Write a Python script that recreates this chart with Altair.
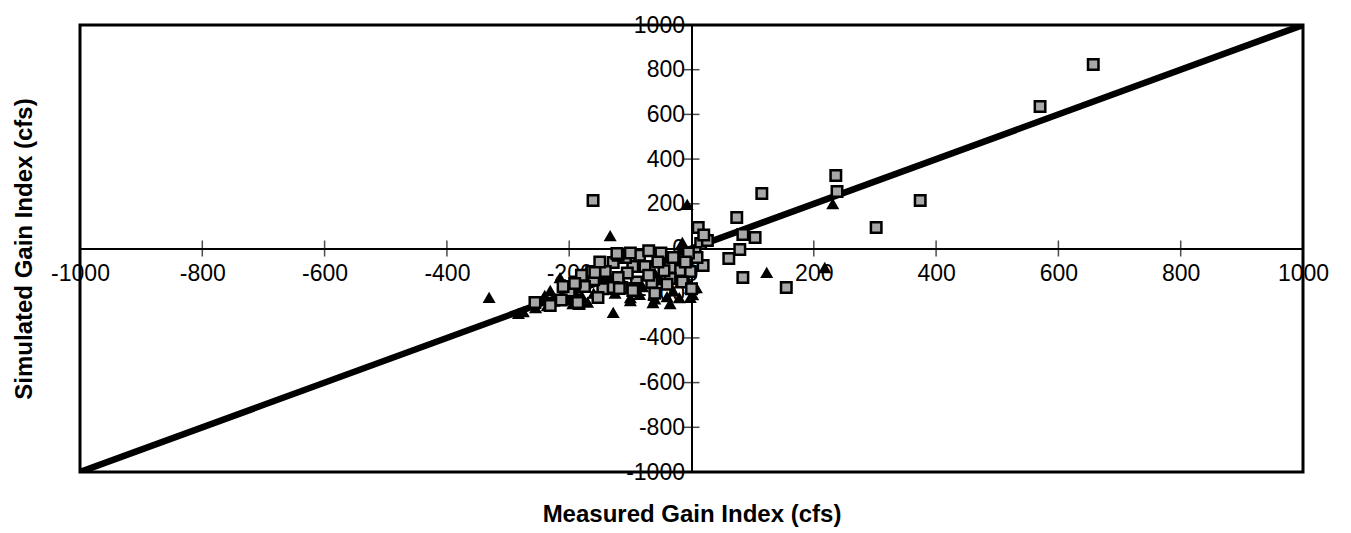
import altair as alt
import pandas as pd

# Measured (x) vs simulated (y) gain index, cfs
square_x = [657, 570, 236, 238, 302, 374, 115, 74, 84, 104, 79, 61, 84, 155,
            11, 15, 6, 26, 20, 19, 9, -11, -2, -19, -35, -35, -30, -15, -5, -10,
            0, -45, -50, -55, -40, -65, -76, -70, -60, -85, -90, -93, -96, -96,
            -105, -108, -114, -120, -128, -133, -141, -145, -153, -160, -163,
            -175, -184, -190, -200, -213, -231, -256, -161, -120, -100, -70,
            -150, -180, -210, -122, -158, -128, -118, -186, -191]
square_y = [823, 635, 327, 255, 94, 215, 246, 139, 63, 49, -4, -45, -130, -174,
            94, 22, -18, 36, 60, -76, -40, -98, -103, -98, -85, -134, -40, -150, -20, -60,
            -180, -100, -20, -60, -160, -152, -81, -120, -200, -30, -150, -179, -81, -188,
            -110, -40, -175, -130, -63, -179, -103, -180, -219, -140, -103,
            -170, -246, -150, -190, -230, -255, -242, 215, -30, -20, -10,
            -60, -120, -170, -22, -107, -174, -179, -242, -157]

tri_x = [-331, -283, -275, -236, -231, -200, -180, -128, -100, -60, -30, 2,
         -15, -7, -133, 123, 218, 231, -20, -160,
         -194, -100, -63, -35, -2, -215, -171, -140, -110, -80, -50, -20,
         -240, -190, -60, -150, -5, -125, -255, -170, -85, -40, 8, -225]
tri_y = [-219, -290, -282, -255, -188, -230, -210, -286, -220, -225, -190, -206,
         27, 197, 58, -107, -85, 201, -220, -200,
         -246, -233, -242, -246, -219, -130, -98, -150, -160, -170, -140, -120,
         -210, -200, -110, -110, -150, -200, -265, -240, -205, -215, -175, -235]

line_x = [-1000, 1000]
line_y = [-1000, 1000]

tick_values = [-1000, -800, -600, -400, -200, 200, 400, 600, 800, 1000]
axis_values = [-1000, -800, -600, -400, -200, 0, 200, 400, 600, 800, 1000]

sq = pd.DataFrame({"x": square_x, "y": square_y})
tr = pd.DataFrame({"x": tri_x, "y": tri_y})
ln = pd.DataFrame({"x": line_x, "y": line_y})
tk = pd.DataFrame({"x": tick_values, "y": tick_values, "z": [0] * len(tick_values)})

W, H = 1223, 447
xs = alt.Scale(domain=[-1000, 1000], nice=False, zero=False)
ys = alt.Scale(domain=[-1000, 1000], nice=False, zero=False)

x_axis = alt.Axis(
    values=axis_values, orient="bottom", offset=-H / 2, ticks=False, tickSize=0,
    labelExpr="datum.value + ''",
    labelPadding=14, labelFontSize=23, labelFont="Liberation Sans",
    labelColor="black", labelOverlap=False, labelFlush=False, grid=False,
    domainColor="black", domainWidth=2,
    title="Measured Gain Index (cfs)", titleFont="Liberation Sans",
    titleFontSize=24, titleFontWeight="bold", titleColor="black",
    titleBaseline="middle", titleY=266,
)
y_axis = alt.Axis(
    values=axis_values, orient="left", offset=-W / 2, ticks=False, tickSize=0,
    labelExpr="datum.value + ''",
    labelPadding=7, labelFontSize=23, labelFont="Liberation Sans",
    labelColor="black", labelOverlap=False, grid=False,
    domainColor="black", domainWidth=2,
    title="Simulated Gain Index (cfs)", titleFont="Liberation Sans",
    titleFontSize=24, titleFontWeight="bold", titleColor="black",
    titleBaseline="middle", titleAlign="center", titleX=-667,
)


def X(field):
    return alt.X(field, type="quantitative", scale=xs, axis=x_axis)


def Y(field):
    return alt.Y(field, type="quantitative", scale=ys, axis=y_axis)


line = alt.Chart(ln).mark_line(color="black", strokeWidth=6.5, clip=True).encode(
    x=X("x"), y=Y("y"),
)

xticks = alt.Chart(tk).mark_tick(orient="vertical", size=16, thickness=1.5,
                                  color="black").encode(x=X("x"), y=Y("z"))
yticks = alt.Chart(tk).mark_tick(orient="horizontal", size=16, thickness=1.5,
                                  color="black").encode(y=Y("y"), x=X("z"))

squares = alt.Chart(sq).mark_point(
    shape="square", filled=True, fill="#a8a8a8", stroke="black",
    strokeWidth=2.5, size=110, opacity=1,
).encode(x=X("x"), y=Y("y"))

tris = alt.Chart(tr).mark_point(
    shape="triangle-up", filled=True, color="black", size=170, opacity=1,
).encode(x=X("x"), y=Y("y"))

chart = alt.layer(line, xticks, yticks, tris, squares).properties(
    width=W, height=H,
    autosize=alt.AutoSizeParams(type="none"),
    padding={"left": 72, "top": 17, "right": 40, "bottom": 60},
).configure(background="white").configure_view(stroke="black", strokeWidth=3)

chart.save("out.html", embed_options={"renderer": "svg", "actions": False})
